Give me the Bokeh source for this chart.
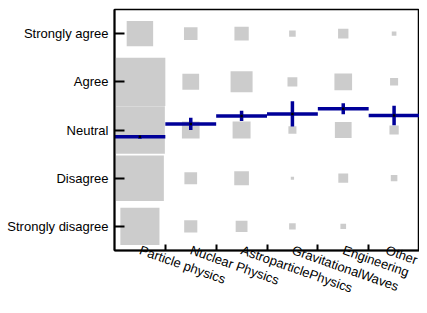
import math
from bokeh.plotting import figure
from bokeh.models import FixedTicker, Range1d
from bokeh.embed import file_html
from bokeh.resources import INLINE

fields = ["Particle physics", "Nuclear Physics", "AstroparticlePhysics",
          "GravitationalWaves", "Engineering", "Other"]
answers = ["Strongly disagree", "Disagree", "Neutral", "Agree", "Strongly agree"]

# counts per answer (Strongly disagree ... Strongly agree)
counts_particle = [142, 213, 231, 240, 65]
counts_nuclear = [16, 15, 29, 26, 17]
counts_astro = [13, 20, 30, 45, 19]
counts_gw = [4, 1, 6, 9, 4]
counts_eng = [3, 9, 26, 29, 10]
counts_other = [0, 4, 8, 6, 2]
counts = [counts_particle, counts_nuclear, counts_astro, counts_gw, counts_eng, counts_other]

FONT = "Liberation Sans"
GRAY = "#cccccc"
BLUE = "#000099"

p = figure(width=419, height=305, x_range=Range1d(0, len(fields)),
           y_range=Range1d(0.5, len(answers) + 0.5),
           output_backend="svg", toolbar_location=None,
           min_border_left=114, min_border_right=0, min_border_top=9, min_border_bottom=10)
p.xgrid.visible = False
p.ygrid.visible = False
p.background_fill_color = "white"
p.border_fill_color = "white"
p.outline_line_color = "black"
p.outline_line_width = 1.5

# boxes: area proportional to count
cmax = max(max(c) for c in counts)
bx, by, bs = [], [], []
for i, col in enumerate(counts):
    for j, c in enumerate(col):
        if c > 0:
            bx.append(i + 0.5)
            by.append(j + 1)
            bs.append(math.sqrt(c / cmax))
p.rect(x=bx, y=by, width=bs, height=bs, fill_color=GRAY, line_color=None)

# profile: mean and error of the mean per field
mx, my, me = [], [], []
for i, col in enumerate(counts):
    n = sum(col)
    m = sum((j + 1) * c for j, c in enumerate(col)) / n
    var = sum(((j + 1) ** 2) * c for j, c in enumerate(col)) / n - m * m
    mx.append(i + 0.5)
    my.append(m)
    me.append(math.sqrt(var / n))

p.segment(x0=[x - 0.5 for x in mx], x1=[x + 0.5 for x in mx], y0=my, y1=my,
          line_color=BLUE, line_width=3.5)
p.segment(x0=mx, x1=mx, y0=[m - e for m, e in zip(my, me)], y1=[m + e for m, e in zip(my, me)],
          line_color=BLUE, line_width=3.5)
p.scatter(x=mx, y=my, marker="square", size=2.5, fill_color="black", line_color=None)

# y axis
ya = p.yaxis[0]
ya.ticker = FixedTicker(ticks=list(range(1, len(answers) + 1)))
ya.major_label_overrides = {j + 1: a for j, a in enumerate(answers)}
ya.major_tick_in = 10
ya.major_tick_out = 0
ya.major_tick_line_width = 2
ya.minor_tick_line_color = None
ya.axis_line_width = 2
ya.major_label_standoff = 6
ya.major_label_text_font = FONT
ya.major_label_text_font_size = "13px"
ya.major_label_text_color = "black"

# x axis: labels at category centres, tick marks at category boundaries
xa = p.xaxis[0]
centres = [i + 0.5 for i in range(len(fields))]
xa.ticker = FixedTicker(ticks=centres, minor_ticks=list(range(1, len(fields))))
xa.major_label_overrides = {c: f for c, f in zip(centres, fields)}
xa.major_label_orientation = -0.34
xa.major_tick_line_color = None
xa.major_tick_in = 0
xa.major_tick_out = 0
xa.minor_tick_in = 6
xa.minor_tick_out = 0
xa.minor_tick_line_width = 2
xa.minor_tick_line_color = "black"
xa.axis_line_width = 2
xa.major_label_standoff = -1
xa.major_label_text_font = FONT
xa.major_label_text_font_size = "13px"
xa.major_label_text_color = "black"

open("out.html", "w").write(file_html(p, INLINE))
